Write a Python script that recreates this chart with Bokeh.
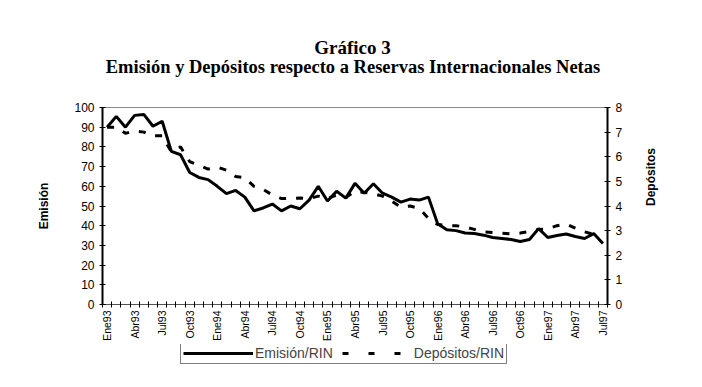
from math import pi
from bokeh.plotting import figure
from bokeh.layouts import column
from bokeh.core.properties import value
from bokeh.models import (Range1d, LinearAxis, FixedTicker, Legend, LegendItem)
from bokeh.embed import file_html
from bokeh.resources import INLINE

# ---- data ----
meses = ["Ene", "Feb", "Mar", "Abr", "May", "Jun", "Jul", "Ago", "Sep", "Oct", "Nov", "Dic"]
anios = ["93", "94", "95", "96", "97"]
periodos = [m + a for a in anios for m in meses][:55]   # Ene93 .. Jul97

emision = [90, 95.5, 90, 96, 96.5, 90.5, 93, 77.7, 76, 67, 64.5, 63.4, 60, 56.3,
           57.9, 54.5, 47.5, 49, 51, 47.5, 50, 48.6, 53, 60, 52.5, 57.5, 54,
           61.5, 56.5, 61.3, 56.5, 54.5, 52, 53.5, 53, 54.5, 41, 38, 37.5,
           36.3, 36, 35.2, 34, 33.5, 33, 32, 33, 38.5, 34, 35, 35.8, 34.5,
           33.5, 36, 31]

depositos = [7.2, 7.2, 6.95, 7.05, 7.0, 6.85, 6.85, 6.2, 6.4, 5.8, 5.65, 5.5,
             5.58, 5.45, 5.2, 5.15, 4.8, 4.67, 4.45, 4.3, 4.3, 4.32, 4.3, 4.4,
             4.3, 4.45, 4.35, 4.6, 4.55, 4.5, 4.4, 4.2, 3.95, 4.0, 3.9, 3.5,
             3.25, 3.2, 3.2, 3.15, 3.05, 2.95, 2.92, 2.9, 2.87, 2.9, 2.97, 3.05,
             3.07, 3.2, 3.27, 3.1, 2.95, 2.85]

emision_ticks = list(range(0, 101, 10))
depositos_ticks = list(range(0, 9))

titulo = "Gráfico 3"
subtitulo = "Emisión y Depósitos respecto a Reservas Internacionales Netas"

x_emi = list(range(len(emision)))
x_dep = list(range(len(depositos)))

SANS = "Liberation Sans"
SERIF = "Liberation Serif"

# ---- title strip ----
p0 = figure(width=702, height=80, output_backend="svg", toolbar_location=None,
            x_range=Range1d(0, 1), y_range=Range1d(0, 80),
            x_axis_type=None, y_axis_type=None, min_border=0)
p0.title.visible = False
p0.xgrid.visible = False
p0.ygrid.visible = False
p0.outline_line_color = None
p0.background_fill_color = "white"
p0.border_fill_color = "white"
p0.text(x=[0.495], y=[33], text=[titulo], text_align="center",
        text_baseline="middle", text_font=value(SERIF), text_font_style="bold",
        text_font_size="19px", text_color="black")
p0.text(x=[0.496], y=[14], text=[subtitulo], text_align="center",
        text_baseline="middle", text_font=value(SERIF), text_font_style="bold",
        text_font_size="18.5px", text_color="black")

# ---- main chart ----
p = figure(width=702, height=264, output_backend="svg", toolbar_location=None,
           x_range=Range1d(-0.5, len(periodos) - 0.5), y_range=Range1d(0, 100),
           min_border_left=102, min_border_right=95, min_border_top=27,
           min_border_bottom=40)
p.title.visible = False
p.extra_y_ranges = {"dep": Range1d(0, 8)}
p.xgrid.visible = False
p.ygrid.visible = False
p.outline_line_color = "#888888"
p.outline_line_width = 1
p.background_fill_color = "white"
p.border_fill_color = "white"

p.line(x_dep, depositos, y_range_name="dep", line_color="black", line_width=3,
       line_dash="7 10")
p.line(x_emi, emision, line_color="black", line_width=3)

# x axis
xa = p.xaxis[0]
xa.ticker = FixedTicker(ticks=list(range(0, len(periodos), 3)),
                        minor_ticks=[i - 0.5 for i in range(len(periodos) + 1)])
xa.major_label_overrides = {i: periodos[i] for i in range(0, len(periodos), 3)}
xa.major_label_orientation = pi / 2
xa.major_tick_line_color = None
xa.major_tick_out = 3
xa.major_tick_in = 0
xa.major_label_standoff = 3
xa.minor_tick_in = 3
xa.minor_tick_out = 3
xa.minor_tick_line_color = "black"
xa.axis_line_color = "#555555"
xa.axis_line_width = 1
xa.major_label_text_font = SANS
xa.major_label_text_font_size = "10.5px"
xa.major_label_text_color = "black"

# left axis
ya = p.yaxis[0]
ya.ticker = FixedTicker(ticks=emision_ticks, minor_ticks=[])
ya.major_tick_in = 3
ya.major_tick_out = 3
ya.minor_tick_line_color = None
ya.axis_line_width = 2
ya.axis_line_color = "black"
ya.major_label_text_font = SANS
ya.major_label_text_font_size = "12px"
ya.major_label_text_color = "black"
ya.axis_label = "Emisión"
ya.axis_label_text_font = SANS
ya.axis_label_text_font_style = "bold"
ya.axis_label_text_font_size = "12px"
ya.axis_label_text_color = "black"
ya.axis_label_standoff = 20

# right axis
ra = LinearAxis(y_range_name="dep",
                ticker=FixedTicker(ticks=depositos_ticks, minor_ticks=[]),
                axis_label="Depósitos")
ra.major_tick_in = 3
ra.major_tick_out = 3
ra.minor_tick_line_color = None
ra.axis_line_width = 2
ra.axis_line_color = "black"
ra.major_label_text_font = SANS
ra.major_label_text_font_size = "12px"
ra.major_label_text_color = "black"
ra.axis_label_text_font = SANS
ra.axis_label_text_font_style = "bold"
ra.axis_label_text_font_size = "12px"
ra.axis_label_text_color = "black"
ra.axis_label_standoff = 26
ra.axis_label_orientation = pi / 2
p.add_layout(ra, "right")

# ---- legend strip ----
p2 = figure(width=702, height=40, output_backend="svg", toolbar_location=None,
            x_range=Range1d(0, 1), y_range=Range1d(0, 1),
            x_axis_type=None, y_axis_type=None, min_border=0)
p2.title.visible = False
p2.xgrid.visible = False
p2.ygrid.visible = False
p2.outline_line_color = None
p2.background_fill_color = "white"
p2.border_fill_color = "white"

r1 = p2.line([-5, -4], [-5, -5], line_color="black", line_width=3)
r2 = p2.line([-5, -4], [-5, -5], line_color="black", line_width=3,
             line_dash="6 20")
legend = Legend(items=[LegendItem(label="Emisión/RIN", renderers=[r1]),
                       LegendItem(label="Depósitos/RIN", renderers=[r2])],
                orientation="horizontal", location=(78, 20),
                border_line_color="black", border_line_width=1,
                background_fill_color="white", background_fill_alpha=1,
                label_text_font=SANS, label_text_font_size="14px",
                label_height=14, glyph_height=14, glyph_width=70,
                padding=2, margin=0, spacing=9, label_standoff=2)
p2.add_layout(legend)

open("out.html", "w").write(file_html(column(p0, p, p2, spacing=0), INLINE))
